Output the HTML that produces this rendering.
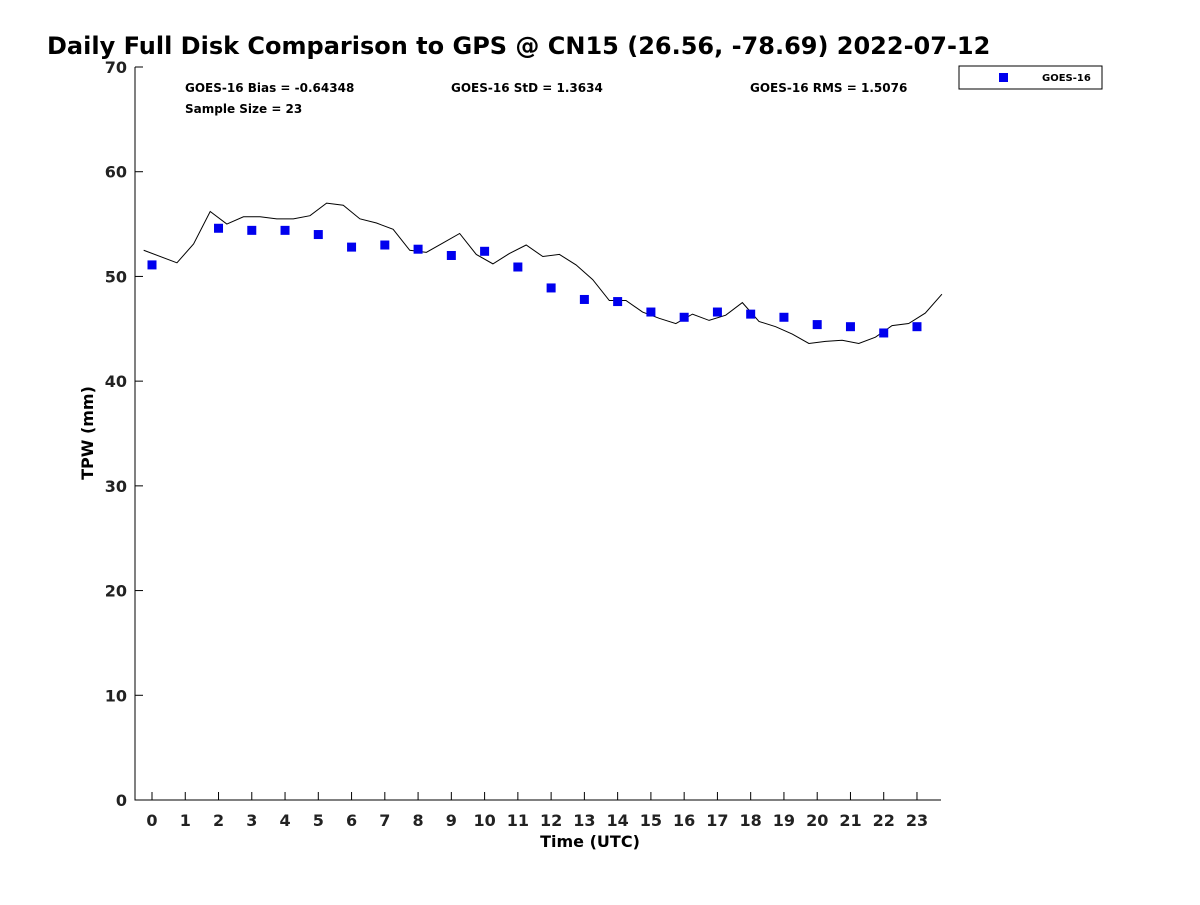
<!DOCTYPE html>
<html><head><meta charset="utf-8"><style>
body{margin:0;background:#fff;}
svg{font-family:"DejaVu Sans","Liberation Sans",sans-serif;font-weight:bold;}
</style></head><body>
<svg id="chart" width="1200" height="900">
<text x="47" y="54" font-size="24" fill="#000">Daily Full Disk Comparison to GPS @ CN15 (26.56, -78.69) 2022-07-12</text>
<g id="axes"></g>
<g id="marks"></g>
<text x="185" y="92" font-size="12">GOES-16 Bias = -0.64348</text>
<text x="451" y="92" font-size="12">GOES-16 StD = 1.3634</text>
<text x="750" y="92" font-size="12">GOES-16 RMS = 1.5076</text>
<text x="185" y="113" font-size="12">Sample Size = 23</text>
<g>
<rect x="959" y="66" width="143" height="23" fill="#fff" stroke="#000" stroke-width="1"/>
<rect x="999" y="73" width="9" height="9" fill="#0000ee"/>
<text x="1042" y="81" font-size="10">GOES-16</text>
</g>
<text x="590" y="847" font-size="16" text-anchor="middle">Time (UTC)</text>
<text transform="translate(93,433) rotate(-90)" font-size="16" text-anchor="middle">TPW (mm)</text>
</svg>
<script>
const gpsTimes = [-0.25,0.75,1.25,1.75,2.25,2.75,3.25,3.75,4.25,4.75,5.25,5.75,6.25,6.75,7.25,7.75,8.25,8.75,9.25,9.75,10.25,10.75,11.25,11.75,12.25,12.75,13.25,13.75,14.25,14.75,15.25,15.75,16.25,16.75,17.25,17.75,18.25,18.75,19.25,19.75,20.25,20.75,21.25,21.75,22.25,22.75,23.25,23.75];
const gpsValues = [52.5,51.3,53.1,56.2,55.0,55.7,55.7,55.5,55.5,55.8,57.0,56.8,55.5,55.1,54.5,52.5,52.3,53.2,54.1,52.1,51.2,52.2,53.0,51.9,52.1,51.1,49.7,47.7,47.7,46.6,46.0,45.5,46.4,45.8,46.3,47.5,45.7,45.2,44.5,43.6,43.8,43.9,43.6,44.2,45.3,45.5,46.5,48.3];
const goesHours = [0,2,3,4,5,6,7,8,9,10,11,12,13,14,15,16,17,18,19,20,21,22,23];
const goesValues = [51.1,54.6,54.4,54.4,54.0,52.8,53.0,52.6,52.0,52.4,50.9,48.9,47.8,47.6,46.6,46.1,46.6,46.4,46.1,45.4,45.2,44.6,45.2];
const xTicks = [0,1,2,3,4,5,6,7,8,9,10,11,12,13,14,15,16,17,18,19,20,21,22,23];
const yTicks = [0,10,20,30,40,50,60,70];

const NS="http://www.w3.org/2000/svg";
const X0=135,X1=941,Y0=800,Y1=67;
const xs=t=>152+t*33.26;
const ys=v=>Y0-(v/70)*(Y0-Y1);
function mk(tag,attrs,parent){const e=document.createElementNS(NS,tag);for(const k in attrs)e.setAttribute(k,attrs[k]);parent.appendChild(e);return e;}
const axes=document.getElementById('axes'), marks=document.getElementById('marks');
let a=mk('path',{d:`M${X0},${Y1}V${Y0}H${X1}`,fill:'none',stroke:'#000','stroke-width':1},axes);


yTicks.forEach(v=>{
  const y=ys(v);
  let t=mk('line',{x1:X0,x2:X0+8,y1:y,y2:y,stroke:'#000'},axes);
  
  
  let l=mk('text',{x:X0-8,y:y+6,'font-size':16,'text-anchor':'end',fill:'#222'},axes);
  l.textContent=v;
  
  
});
xTicks.forEach(h=>{
  const x=xs(h);
  let t=mk('line',{x1:x,x2:x,y1:Y0,y2:Y0-8,stroke:'#000'},axes);
  
  
  let l=mk('text',{x:x,y:Y0+26,'font-size':16,'text-anchor':'middle',fill:'#222'},axes);
  l.textContent=h;
  
  
});
let line=mk('polyline',{points:gpsTimes.map((t,i)=>xs(t)+','+ys(gpsValues[i])).join(' '),fill:'none',stroke:'#000','stroke-width':1},marks);


goesHours.forEach((h,i)=>{
  let r=mk('rect',{x:xs(h)-4.5,y:ys(goesValues[i])-4.5,width:9,height:9,fill:'#0000ee'},marks);
  
  
});
</script>
</body></html>
